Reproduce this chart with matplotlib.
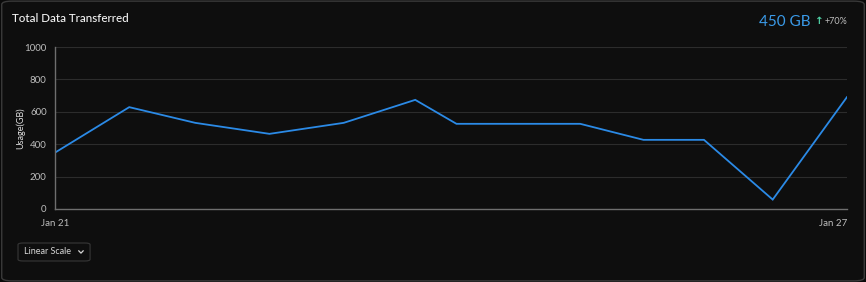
import matplotlib
matplotlib.use("Agg")
import matplotlib.pyplot as plt
from matplotlib.patches import FancyBboxPatch
from matplotlib.lines import Line2D

plt.rcParams['font.family'] = ['Lato', 'DejaVu Sans']

# hours since Jan 21 00:00 and usage in GB
hours = [0, 13.5, 25.5, 39, 52.5, 65.5, 73, 95.5, 107, 118, 130.5, 144]
usage = [348, 629, 532, 464, 532, 674, 526, 526, 427, 427, 58, 691]
tick_pos = [0, 144]
tick_labels = ['Jan 21', 'Jan 27']
y_ticks = [0, 200, 400, 600, 800, 1000]

bg = '#0e0e0e'
fig = plt.figure(figsize=(8.66, 2.82), dpi=100)
fig.patch.set_facecolor('#0a0a0a')

# outer card
card = FancyBboxPatch((0.002, 0.004), 0.996, 0.992, boxstyle='round,pad=0,rounding_size=0.012',
                      transform=fig.transFigure, facecolor=bg, edgecolor='#3a3a3a', linewidth=1.0,
                      zorder=-5)
fig.patches.append(card)

ax = fig.add_axes([0.0635, 0.259, 0.9145, 0.574])
ax.set_zorder(2)
ax.set_facecolor(bg)
ax.plot(hours, usage, color='#2b8ae6', linewidth=1.3, solid_joinstyle='miter')
ax.set_xlim(0, 144)
ax.set_ylim(0, 1000)
ax.set_yticks(y_ticks)
ax.set_xticks(tick_pos)
ax.set_xticklabels(tick_labels)
ax.get_xticklabels()[-1].set_horizontalalignment('right')
ax.tick_params(axis='both', length=0, colors='#bdbdbd', labelsize=7)
ax.tick_params(axis='x', pad=7)
ax.tick_params(axis='y', pad=6)
ax.grid(axis='y', color='#2c2c2c', linewidth=0.8)
ax.set_axisbelow(True)
for s in ['top', 'right']:
    ax.spines[s].set_visible(False)
for s in ['left', 'bottom']:
    ax.spines[s].set_color('#6e6e6e')
    ax.spines[s].set_linewidth(1.0)
ax.set_ylabel('Usage(GB)', color='#e0e0e0', fontsize=6.5, va='center')
ax.yaxis.set_label_coords(-0.043, 0.5)

# header texts
fig.text(0.0139, 0.935, 'Total Data Transferred', color='#f2f2f2', fontsize=8.4, va='center',
         fontweight='medium')
fig.text(0.877, 0.922, '450 GB', color='#3a9ae8', fontsize=11, va='center')
fig.text(0.941, 0.925, '↑', color='#4fd1a5', fontsize=7.5, va='center', fontweight='bold',
         family=['DejaVu Sans'])
fig.text(0.952, 0.922, '+70%', color='#bdbdbd', fontsize=6.5, va='center')

# "Linear Scale" selector
btn = FancyBboxPatch((0.0208, 0.0745), 0.0832, 0.0638, boxstyle='round,pad=0,rounding_size=0.006',
                     transform=fig.transFigure, facecolor=bg, edgecolor='#333333', linewidth=0.9)
fig.patches.append(btn)
fig.text(0.0277, 0.1064, 'Linear Scale', color='#d6d6d6', fontsize=6.5, va='center')
cx, cy = 0.0935, 0.1064
fig.lines.append(Line2D([cx - 0.0025, cx, cx + 0.0025], [cy + 0.004, cy - 0.004, cy + 0.004],
                        transform=fig.transFigure, color='#d6d6d6', linewidth=0.9))

fig.savefig('out.png', dpi=100, facecolor=fig.get_facecolor())
